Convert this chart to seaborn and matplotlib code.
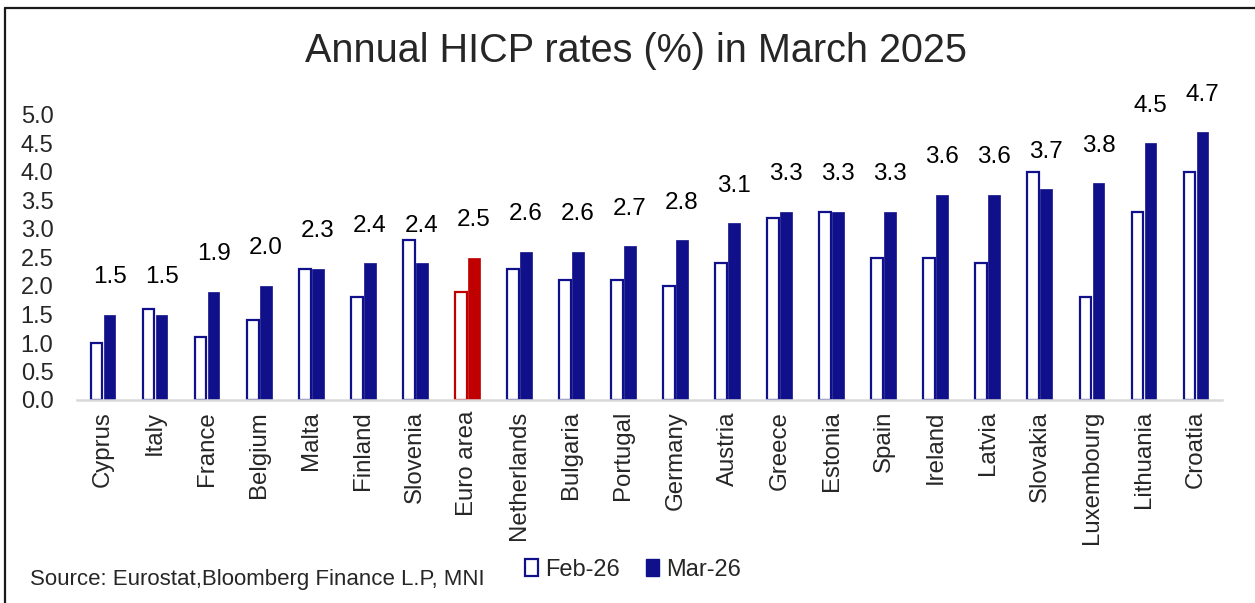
import matplotlib
matplotlib.use("Agg")
import matplotlib.pyplot as plt
from matplotlib.patches import Patch
from matplotlib.lines import Line2D
import seaborn as sns
import pandas as pd

countries = ["Cyprus", "Italy", "France", "Belgium", "Malta", "Finland", "Slovenia",
             "Euro area", "Netherlands", "Bulgaria", "Portugal", "Germany", "Austria",
             "Greece", "Estonia", "Spain", "Ireland", "Latvia", "Slovakia",
             "Luxembourg", "Lithuania", "Croatia"]
feb_26 = [1.0, 1.6, 1.1, 1.4, 2.3, 1.8, 2.8, 1.9, 2.3, 2.1, 2.1, 2.0, 2.4,
          3.2, 3.3, 2.5, 2.5, 2.4, 4.0, 1.8, 3.3, 4.0]
mar_26 = [1.5, 1.5, 1.9, 2.0, 2.3, 2.4, 2.4, 2.5, 2.6, 2.6, 2.7, 2.8, 3.1,
          3.3, 3.3, 3.3, 3.6, 3.6, 3.7, 3.8, 4.5, 4.7]
series_names = ["Feb-26", "Mar-26"]
title = "Annual HICP rates (%) in March 2025"
source = "Source: Eurostat,Bloomberg Finance L.P, MNI"
highlight = "Euro area"

NAVY = "#10108A"
RED = "#C00000"

sns.set_theme(style="white")
plt.rcParams["font.family"] = ["Liberation Sans", "DejaVu Sans"]

df = pd.DataFrame({
    "country": countries * 2,
    "month": [series_names[0]] * len(countries) + [series_names[1]] * len(countries),
    "value": feb_26 + mar_26,
})

fig = plt.figure(figsize=(12.55, 6.03), dpi=100)
ax = fig.add_axes([77 / 1255, 1 - 400 / 603, (1222 - 77) / 1255, (400 - 115) / 603])

sns.barplot(data=df, x="country", y="value", hue="month", hue_order=series_names,
            order=countries, palette=[NAVY, NAVY], width=0.5, gap=0.1,
            errorbar=None, ax=ax, legend=False)

hi = countries.index(highlight)
for i, bar in enumerate(ax.containers[0]):
    col = RED if i == hi else NAVY
    bar.set_facecolor("white")
    bar.set_edgecolor(col)
    bar.set_linewidth(1.6)
for i, bar in enumerate(ax.containers[1]):
    col = RED if i == hi else NAVY
    bar.set_facecolor(col)
    bar.set_edgecolor(col)
    bar.set_linewidth(0.5)

# value labels above Mar bars
for i, bar in enumerate(ax.containers[1]):
    xc = bar.get_x() + bar.get_width() / 2
    ax.annotate(f"{mar_26[i]:.1f}", xy=(xc, mar_26[i]), xytext=(0, 27),
                textcoords="offset points", ha="center", va="center",
                fontsize=17.5, color="black", annotation_clip=False)

ax.set_ylim(0, 5.0)
ax.set_xlim(-0.5, len(countries) - 0.5)
ax.set_yticks([0, 0.5, 1, 1.5, 2, 2.5, 3, 3.5, 4, 4.5, 5])
ax.set_yticklabels([f"{v:.1f}" for v in ax.get_yticks()])
ax.set_xlabel("")
ax.set_ylabel("")
ax.tick_params(axis="y", length=0, pad=17, labelsize=17)
ax.tick_params(axis="x", length=0, pad=8, labelsize=17.3, rotation=90)
for lab in ax.get_xticklabels():
    lab.set_va("top")
    lab.set_ha("center")
for s in ["top", "right", "left"]:
    ax.spines[s].set_visible(False)
ax.spines["bottom"].set_color("#D9D9D9")
ax.spines["bottom"].set_linewidth(1.8)
ax.grid(False)

fig.text(636 / 1255, 1 - 51 / 603, title, ha="center", va="center", fontsize=28.5)
fig.text(30 / 1255, 1 - 579 / 603, source, ha="left", va="center", fontsize=16)

handles = [Patch(facecolor="white", edgecolor=NAVY, linewidth=1.6),
           Patch(facecolor=NAVY, edgecolor=NAVY)]
fig.legend(handles, series_names, loc="center", bbox_to_anchor=(633 / 1255, 1 - 570 / 603),
           ncol=2, frameon=False, fontsize=17, handlelength=0.55, handleheight=0.7,
           handletextpad=0.3, columnspacing=1.1)

fig.add_artist(Line2D([5 / 1255, 1], [1 - 8 / 603] * 2, transform=fig.transFigure,
                      color="#1a1a1a", linewidth=1.6))
fig.add_artist(Line2D([5 / 1255] * 2, [0, 1 - 8 / 603], transform=fig.transFigure,
                      color="#1a1a1a", linewidth=1.6))

fig.savefig("out.png", dpi=100, facecolor="white")
